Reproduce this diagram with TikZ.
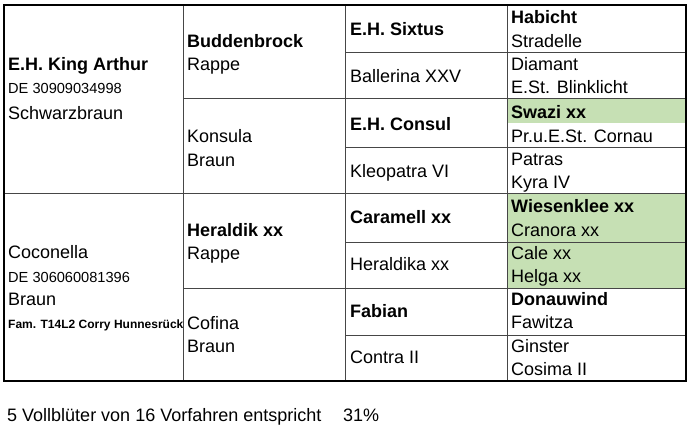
\documentclass[tikz,border=0pt]{standalone}
\usepackage{fontspec}
\setmainfont{Liberation Sans}
\definecolor{xgreen}{RGB}{198,224,180}
\definecolor{gridc}{RGB}{70,70,70}
\begin{document}
\begin{tikzpicture}[x=1pt,y=-1pt,
  txt/.style={anchor=base west,inner sep=0pt,font=\fontsize{18}{20}\selectfont},
  btxt/.style={anchor=base west,inner sep=0pt,font=\fontsize{18}{20}\selectfont\bfseries},
  stxt/.style={anchor=base west,inner sep=0pt,font=\fontsize{14.6}{16}\selectfont},
  ftxt/.style={anchor=base west,inner sep=0pt,font=\fontsize{12}{14}\selectfont\bfseries},
  gridline/.style={draw=gridc,line width=1pt},
  frameline/.style={draw=black,line width=1.8pt},
  greencell/.style={fill=xgreen}]
\useasboundingbox (0,0) rectangle (693,432);
% green cells
\fill[greencell] (507,98) rectangle (686,123);
\fill[greencell] (507,193) rectangle (686,288);
% grid
\draw[gridline] (183,5) -- (183,381) (345,5) -- (345,381) (507,5) -- (507,381);
\draw[gridline] (4,193) -- (686,193);
\draw[gridline] (183,98) -- (686,98) (183,288) -- (686,288);
\draw[gridline] (345,52) -- (686,52) (345,147) -- (686,147)
                (345,242) -- (686,242) (345,335) -- (686,335);
\draw[frameline] (4,5) rectangle (686,381);
% column 1
\node[btxt] (ka) at (8,70) {E.H. King Arthur};
\node[stxt] (kade) at (8,93) {DE 30909034998};
\node[txt] (kaf) at (8,119) {Schwarzbraun};
\node[txt] (co) at (8,258) {Coconella};
\node[stxt] (code) at (8,282) {DE 306060081396};
\node[txt] (cof) at (8,305) {Braun};
\node[ftxt] (cofam) at (8,328) {Fam. T14L2 Corry Hunnesrück};
% column 2
\node[btxt] (bu) at (187,47) {Buddenbrock};
\node[txt] (buf) at (187,70) {Rappe};
\node[txt] (ko) at (187,142) {Konsula};
\node[txt] (kof) at (187,166) {Braun};
\node[btxt] (he) at (187,236) {Heraldik xx};
\node[txt] (hef) at (187,259) {Rappe};
\node[txt] (cf) at (187,329) {Cofina};
\node[txt] (cff) at (187,352) {Braun};
% column 3
\node[btxt] (si) at (350,35) {E.H. Sixtus};
\node[txt] (ba) at (350,82) {Ballerina XXV};
\node[btxt] (cn) at (350,130) {E.H. Consul};
\node[txt] (kl) at (350,177) {Kleopatra VI};
\node[btxt] (ca) at (350,223) {Caramell xx};
\node[txt] (hk) at (350,270) {Heraldika xx};
\node[btxt] (fa) at (350,317) {Fabian};
\node[txt] (ct) at (350,363) {Contra II};
% column 4
\node[btxt] (g1) at (511,23) {Habicht};
\node[txt] (g2) at (511,47) {Stradelle};
\node[txt] (g3) at (511,70) {Diamant};
\node[txt] (g4) at (511,93) {E.St. Blinklicht};
\node[btxt] (g5) at (511,118) {Swazi xx};
\node[txt] (g6) at (511,142) {Pr.u.E.St. Cornau};
\node[txt] (g7) at (511,165) {Patras};
\node[txt] (g8) at (511,188) {Kyra IV};
\node[btxt] (g9) at (511,212) {Wiesenklee xx};
\node[txt] (g10) at (511,236) {Cranora xx};
\node[txt] (g11) at (511,259) {Cale xx};
\node[txt] (g12) at (511,282) {Helga xx};
\node[btxt] (g13) at (511,305) {Donauwind};
\node[txt] (g14) at (511,328) {Fawitza};
\node[txt] (g15) at (511,352) {Ginster};
\node[txt] (g16) at (511,375) {Cosima II};
% footer
\node[txt] (foot) at (7,421) {5 Vollblüter von 16 Vorfahren entspricht};
\node[txt] (pct) at (343,421) {31\%};
\end{tikzpicture}
\end{document}
